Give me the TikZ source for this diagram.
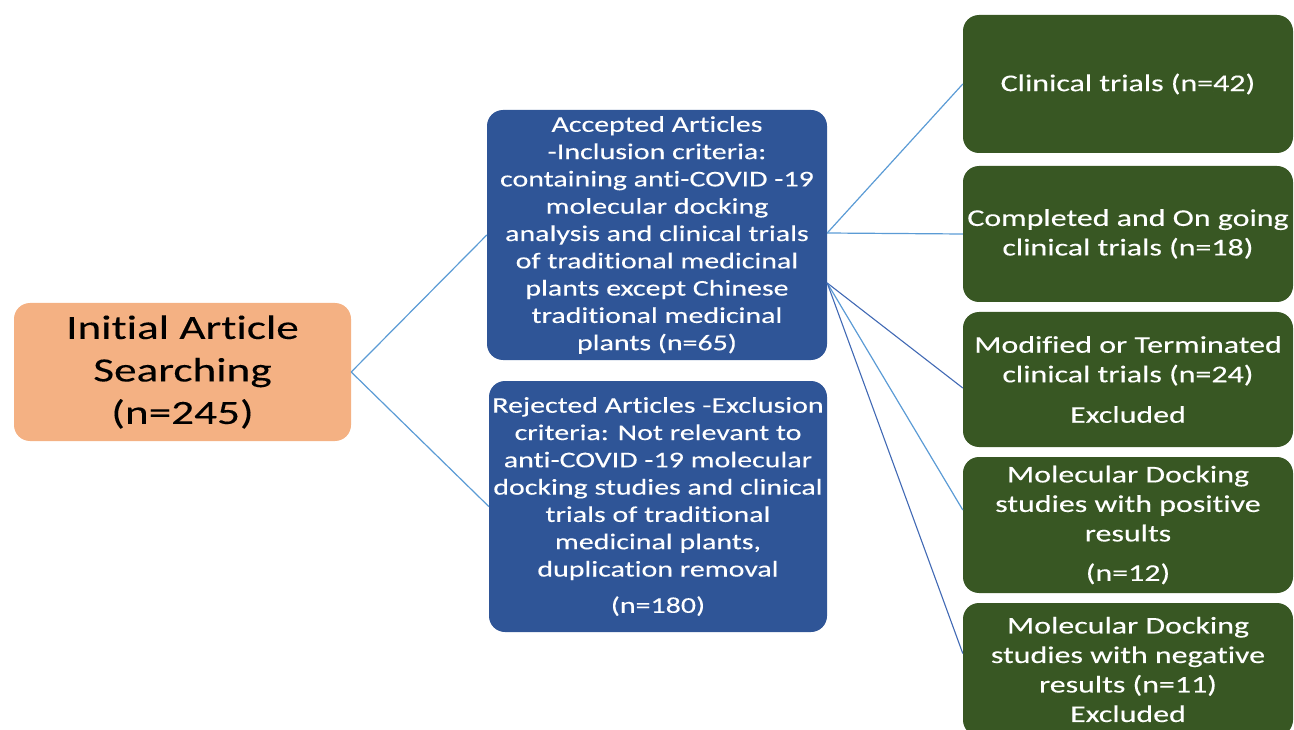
\documentclass[tikz,border=0pt]{standalone}
\usepackage{fontspec}
\setmainfont{Carlito}[FakeStretch=1.33, FakeBold=0.2, Ligatures=NoCommon]
\usepackage{tikz}
\definecolor{art_orange}{HTML}{F4B183}
\definecolor{art_blue}{HTML}{2F5597}
\definecolor{art_green}{HTML}{385723}
\definecolor{art_line}{HTML}{5B9BD5}
\definecolor{art_line_dark}{HTML}{4169B4}

\tikzset{
    box/.style={rounded corners=16pt, align=center, inner sep=2pt},
    startbox/.style={box, fill=art_orange, text=black, font=\fontsize{34}{42.5}\selectfont},
    bluebox/.style={box, fill=art_blue, text=white, font=\fontsize{22.5}{27.3}\selectfont},
    greenbox/.style={box, fill=art_green, text=white, font=\fontsize{24}{29.5}\selectfont,
        minimum width=330pt},
    link/.style={art_line, line width=1.2pt},
    linkdark/.style={art_line_dark, line width=1.1pt}
}

\begin{document}
\begin{tikzpicture}[x=1pt, y=-1pt]
        \useasboundingbox (0,0) rectangle (1294,730);

        \node[startbox, minimum width=337pt, minimum height=138pt] (init) at (182.5, 372)
            {Initial Article\\ Searching\\ (n=245)};

        \node[bluebox, minimum width=340pt, minimum height=250pt] (acc) at (657, 235)
            {Accepted Articles\\ -Inclusion criteria:\\ containing anti-COVID -19\\ molecular docking\\
             analysis and clinical trials\\ of traditional medicinal\\ plants except Chinese\\
             traditional medicinal\\ plants (n=65)};
        \node[bluebox, minimum width=338pt, minimum height=251pt] (rej) at (658, 506.5)
            {Rejected Articles -Exclusion\\ criteria: Not relevant to\\ anti-COVID -19 molecular\\
             docking studies and clinical\\ trials of traditional\\ medicinal plants,\\
             duplication removal\\[9pt] (n=180)};

        \node[greenbox, minimum height=138pt] (ct) at (1128, 84) {Clinical trials (n=42)};
        \node[greenbox, minimum height=136pt] (cog) at (1128, 234)
            {Completed and On going\\ clinical trials (n=18)};
        \node[greenbox, minimum height=135pt] (mod) at (1128, 379.5)
            {Modified or Terminated\\ clinical trials (n=24)\\[11pt] Excluded};
        \node[greenbox, minimum height=136pt] (pos) at (1128, 525)
            {Molecular Docking\\ studies with positive\\ results\\[10pt] (n=12)};
        \node[greenbox, minimum height=133pt] (neg) at (1128, 669.5)
            {Molecular Docking\\ studies with negative\\ results (n=11)\\ Excluded};

        \coordinate (fork) at ([yshift=-48pt]acc.east);

        \draw[link] (init.east) -- (acc.west);
        \draw[link] (init.east) -- (rej.west);
        \draw[link] ([yshift=2pt]acc.east) -- (ct.west);
        \draw[link] ([yshift=2pt]acc.east) -- (cog.west);
        \draw[linkdark] (fork) -- ([yshift=-8.5pt]mod.west);
        \draw[link] (fork) -- ([yshift=15pt]pos.west);
        \draw[linkdark] (fork) -- ([yshift=16pt]neg.west);

\end{tikzpicture}
\end{document}
